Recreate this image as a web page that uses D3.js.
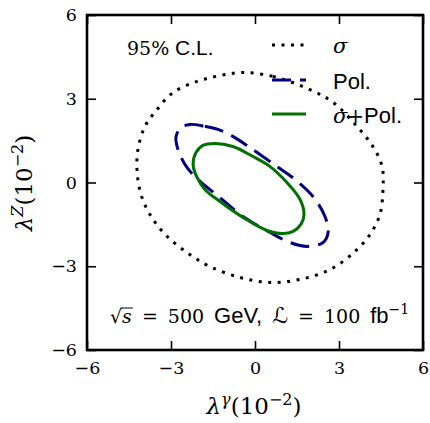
<!DOCTYPE html>
<html>
<head>
<meta charset="utf-8">
<script src="https://cdn.jsdelivr.net/npm/d3@7"></script>
<style>
  html, body { margin: 0; padding: 0; background: #fff; }
  svg { display: block; }
  .tick text { font-family: "DejaVu Serif", serif; font-size: 17.5px; fill: #000; }
</style>
</head>
<body>
<div id="chart"></div>
<script>
// 축 눈금
const xTicks = [-6, -3, 0, 3, 6];
const yTicks = [-6, -3, 0, 3, 6];

// 95% C.L. 등고선 (그림에서 읽은 점들, 단위 10^-2)
const sigmaX = [-0.43, 0.64, 1.96, 2.79, 3.64, 4.21, 4.54, 4.57, 4.46, 4.11, 3.57, 2.68, 1.61, 0.54, -0.54, -1.61, -2.43, -3.21, -3.75, -4.07, -4.21, -4.18, -3.93, -3.50, -2.93, -2.07, -1.25];
const sigmaY = [3.94, 3.80, 3.33, 2.87, 2.01, 1.29, 0.57, -0.25, -1.15, -1.86, -2.47, -3.12, -3.47, -3.58, -3.40, -3.01, -2.51, -1.86, -1.15, -0.43, 0.39, 1.18, 2.01, 2.61, 3.22, 3.62, 3.83];

const polX = [-2.32, -1.79, -1.32, -0.79, -0.18, 0.79, 1.43, 2.07, 2.50, 2.61, 2.43, 1.86, 1.25, 0.54, -0.43, -1.25, -1.96, -2.43, -2.75, -2.82, -2.64];
const polY = [2.08, 2.01, 1.90, 1.65, 1.25, 0.57, 0.11, -0.50, -1.22, -1.79, -2.15, -2.29, -2.15, -1.79, -1.22, -0.54, 0.04, 0.54, 1.18, 1.65, 1.97];

const bothX = [-1.43, -0.79, -0.07, 0.54, 1.14, 1.61, 1.75, 1.64, 1.36, 1.00, 0.43, -0.43, -1.25, -1.79, -2.07, -2.21, -2.11, -1.86];
const bothY = [1.40, 1.29, 0.93, 0.57, 0.00, -0.61, -1.15, -1.50, -1.75, -1.83, -1.72, -1.25, -0.68, -0.25, 0.18, 0.64, 1.07, 1.33];

// 범례
const seriesNames = ['sigma', 'pol', 'both'];
const seriesColors = ['#000000', '#000080', '#007000'];
const seriesDash = ['3,6.5', '19,9', null];

const W = 430, H = 423;
const margin = { left: 87, right: 7, top: 15, bottom: 73 };

const svg = d3.select('#chart').append('svg')
    .attr('width', W)
    .attr('height', H);

const x = d3.scaleLinear().domain([-6, 6]).range([margin.left, W - margin.right]);
const y = d3.scaleLinear().domain([-6, 6]).range([H - margin.bottom, margin.top]);

// 곡선
const contours = [
    d3.zip(sigmaX, sigmaY),
    d3.zip(polX, polY),
    d3.zip(bothX, bothY)
];

const line = d3.line()
    .x(d => x(d[0]))
    .y(d => y(d[1]))
    .curve(d3.curveCatmullRomClosed.alpha(0.5));

const curves = svg.append('g').attr('class', 'curves');
contours.forEach((pts, i) => {
    curves.append('path')
        .attr('d', line(pts))
        .attr('fill', 'none')
        .attr('stroke', seriesColors[i])
        .attr('stroke-width', 3)
        .attr('stroke-dasharray', seriesDash[i]);
});

// 축 (안쪽 눈금)
const tickLen = 9;
const fmt = d3.format('d');

svg.append('g')
    .attr('transform', `translate(0,${y(-6)})`)
    .call(d3.axisBottom(x).tickValues(xTicks).tickSize(-tickLen).tickPadding(12).tickFormat(fmt));

svg.append('g')
    .attr('transform', `translate(${x(-6)},0)`)
    .call(d3.axisLeft(y).tickValues(yTicks).tickSize(-tickLen).tickPadding(10).tickFormat(fmt));

svg.append('g')
    .attr('transform', `translate(0,${y(6)})`)
    .call(d3.axisTop(x).tickValues(xTicks).tickSize(-tickLen).tickFormat(''));

svg.append('g')
    .attr('transform', `translate(${x(6)},0)`)
    .call(d3.axisRight(y).tickValues(yTicks).tickSize(-tickLen).tickFormat(''));

svg.selectAll('.domain').remove();
svg.selectAll('.tick line').attr('stroke', '#000').attr('stroke-width', 1.6);

// 테두리
svg.append('rect')
    .attr('x', x(-6))
    .attr('y', y(6))
    .attr('width', x(6) - x(-6))
    .attr('height', y(-6) - y(6))
    .attr('fill', 'none')
    .attr('stroke', '#000')
    .attr('stroke-width', 2.6);

// 축 제목
const serif = '"DejaVu Serif", serif';
const sans = '"Liberation Sans", Arial, sans-serif';

function axisTitle(g, sup) {
    const t = g.append('text')
        .attr('text-anchor', 'middle')
        .attr('font-family', serif)
        .attr('font-size', 23);
    t.append('tspan').attr('font-style', 'italic').text('λ');
    t.append('tspan').attr('font-style', 'italic').attr('font-size', 16).attr('dy', -9).text(sup);
    t.append('tspan').attr('dy', 9).text('(10');
    t.append('tspan').attr('font-size', 16).attr('dy', -9).text('−2');
    t.append('tspan').attr('dy', 9).text(')');
}

axisTitle(svg.append('g').attr('transform', 'translate(254,414)'), 'γ');
axisTitle(svg.append('g').attr('transform', 'translate(32,183) rotate(-90)'), 'Z');

// 95% C.L.
const cl = svg.append('text')
    .attr('x', 127)
    .attr('y', 55)
    .attr('font-size', 21);
cl.append('tspan').attr('font-family', serif).attr('font-size', 19).text('95%');
cl.append('tspan').attr('font-family', sans).text(' C.L.');

// 범례
const legendY = [45, 80, 114];
const legend = svg.append('g').attr('class', 'legend');
seriesNames.forEach((name, i) => {
    legend.append('line')
        .attr('x1', 272).attr('x2', 306)
        .attr('y1', legendY[i]).attr('y2', legendY[i])
        .attr('stroke', seriesColors[i])
        .attr('stroke-width', 3)
        .attr('stroke-dasharray', seriesDash[i]);
});

legend.append('text')
    .attr('x', 333).attr('y', legendY[0] + 8)
    .attr('font-family', serif).attr('font-style', 'italic').attr('font-size', 21)
    .text('σ');
legend.append('text')
    .attr('x', 333).attr('y', legendY[1] + 9)
    .attr('font-family', sans).attr('font-size', 22)
    .text('Pol.');
const lb = legend.append('text')
    .attr('x', 333).attr('y', legendY[2] + 9)
    .attr('font-size', 22);
lb.append('tspan').attr('font-family', serif).attr('font-style', 'italic').attr('font-size', 21).text('σ');
lb.append('tspan').attr('font-family', serif).attr('font-size', 20).text('+');
lb.append('tspan').attr('font-family', sans).text('Pol.');

// 주석
const gap = 10;
const note = svg.append('text')
    .attr('x', 110)
    .attr('y', 323)
    .attr('font-size', 19)
    .attr('font-family', serif);
note.append('tspan').text('√');
note.append('tspan').attr('font-style', 'italic').text('s');
note.append('tspan').attr('dx', gap).text('=');
note.append('tspan').attr('dx', gap).text('500');
note.append('tspan').attr('dx', gap).attr('font-family', sans).attr('font-size', 22).text('GeV,');
note.append('tspan').attr('dx', gap).attr('font-family', '"DejaVu Serif", "DejaVu Sans", serif').attr('font-style', 'italic').attr('font-size', 22).text('ℒ');
note.append('tspan').attr('dx', gap).text('=');
note.append('tspan').attr('dx', gap).text('100');
note.append('tspan').attr('dx', gap).attr('font-family', sans).attr('font-size', 22).text('fb');
note.append('tspan').attr('font-size', 14).attr('dy', -9).text('−1');

// √ 위 가로줄
const noteNode = note.node();
const rootBox = noteNode.getExtentOfChar(0);
const sBox = noteNode.getExtentOfChar(1);
svg.append('line')
    .attr('x1', rootBox.x + rootBox.width - 1)
    .attr('x2', sBox.x + sBox.width + 1)
    .attr('y1', rootBox.y + 3)
    .attr('y2', rootBox.y + 3)
    .attr('stroke', '#000')
    .attr('stroke-width', 1);
</script>
</body>
</html>
